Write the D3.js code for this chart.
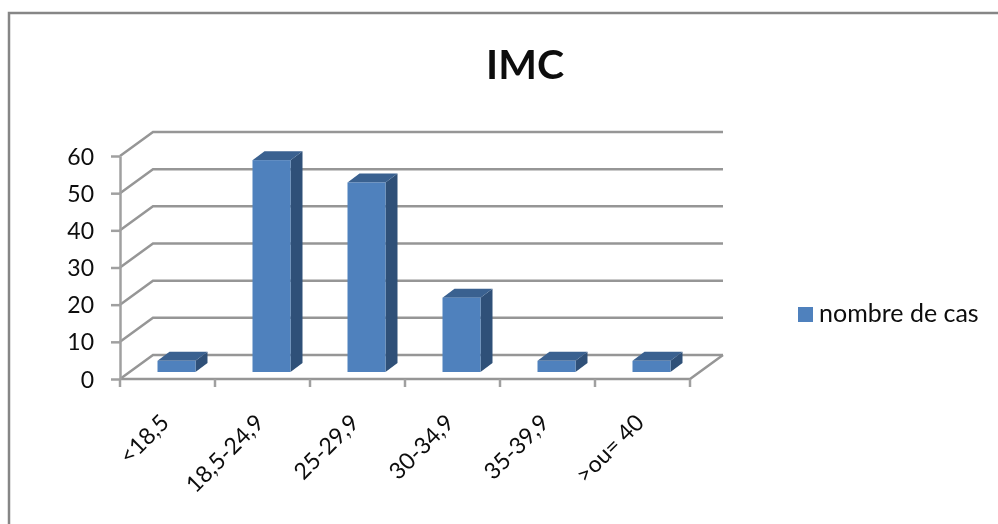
<!DOCTYPE html>
<html lang="fr">
<head>
<meta charset="UTF-8">
<title>IMC</title>
<script src="https://d3js.org/d3.v7.min.js"></script>
<style>
    html, body { margin: 0; padding: 0; background: #fff; overflow: hidden; }
    svg { filter: blur(0.35px); }
    text { font-family: "Lato", "Open Sans", sans-serif; fill: #0d0d0d; }
    .wall { fill: none; stroke: #969696; stroke-width: 2.5px; }
    .axis path, .axis line { stroke: #a0a0a0; stroke-width: 2.5px; }
</style>
</head>
<body>
<script>
const categories = ["<18,5", "18,5-24,9", "25-29,9", "30-34,9", "35-39,9", ">ou= 40"];
const seriesName = "nombre de cas";
const values = [3, 57, 51, 20, 3, 3];
const yTicks = [0, 10, 20, 30, 40, 50, 60];

const W = 998, H = 524;
const plot = {left: 120, right: 690, bottom: 379, top: 156};
const depth = {x: 33, y: -24};
const barDepth = {x: 12, y: -9};
const barShift = {x: 9, y: -7};

const svg = d3.select("body").append("svg").attr("width", W).attr("height", H);

// chart frame, only top and left are visible in the picture
svg.append("path")
    .attr("d", `M9,${H}V13H${W}`)
    .attr("fill", "none").attr("stroke", "#868686").attr("stroke-width", 2.5);

svg.append("text").attr("x", 525).attr("y", 79)
    .attr("text-anchor", "middle")
    .style("font-size", "41px").style("font-weight", 700)
    .text("IMC");

const x = d3.scaleBand().domain(categories).range([plot.left, plot.right]).paddingInner(0.6).paddingOuter(0.3);
const xEdge = d3.scaleLinear().domain([0, categories.length]).range([plot.left, plot.right]);
const y = d3.scaleLinear().domain([0, 60]).range([plot.bottom, plot.top]);

// back wall gridlines and side wall slants
svg.selectAll(".grid").data(yTicks).enter().append("path")
    .attr("class", "wall")
    .attr("d", d => `M${plot.left},${y(d)}L${plot.left + depth.x},${y(d) + depth.y}H${plot.right + depth.x}`);

// floor front edge and right edge
svg.append("path").attr("class", "wall")
    .attr("d", `M${plot.left},${plot.bottom}H${plot.right}L${plot.right + depth.x},${plot.bottom + depth.y}`);

// y axis
const gy = svg.append("g").attr("class", "axis")
    .attr("transform", `translate(${plot.left},0)`)
    .call(d3.axisLeft(y).tickValues(yTicks).tickSize(9).tickSizeOuter(0).tickPadding(17));
gy.select(".domain").attr("stroke", "#a0a0a0");
gy.selectAll("text").style("font-size", "23px").attr("dy", "0.35em");

// x axis ticks
svg.selectAll(".xtick").data(d3.range(categories.length + 1)).enter().append("line")
    .attr("class", "xtick")
    .attr("x1", d => xEdge(d)).attr("x2", d => xEdge(d))
    .attr("y1", plot.bottom).attr("y2", plot.bottom + 8)
    .attr("stroke", "#a0a0a0").attr("stroke-width", 2.5);

// x labels, rotated
svg.selectAll(".xlabel").data(categories).enter().append("text")
    .attr("class", "xlabel")
    .attr("text-anchor", "end")
    .attr("transform", d => `translate(${x(d) + x.bandwidth() / 2 + 3},${plot.bottom + 45}) rotate(-45)`)
    .style("font-size", "23px")
    .text(d => d);

// bars
const bar = svg.selectAll(".bar").data(categories.map((c, i) => ({c, v: values[i]})))
    .enter().append("g").attr("class", "bar")
    .attr("transform", `translate(${barShift.x},${barShift.y})`);

bar.append("path").attr("fill", "#2f5078")
    .attr("d", d => {
        const x1 = x(d.c) + x.bandwidth();
        return `M${x1},${y(d.v)}l${barDepth.x},${barDepth.y}V${plot.bottom + barDepth.y}L${x1},${plot.bottom}Z`;
    });
bar.append("path").attr("fill", "#3a6190")
    .attr("d", d => {
        const x0 = x(d.c);
        return `M${x0},${y(d.v)}l${barDepth.x},${barDepth.y}h${x.bandwidth()}l${-barDepth.x},${-barDepth.y}Z`;
    });
bar.append("rect").attr("fill", "#4f81bd")
    .attr("x", d => x(d.c)).attr("width", x.bandwidth())
    .attr("y", d => y(d.v)).attr("height", d => plot.bottom - y(d.v));

// legend
svg.append("rect").attr("x", 798).attr("y", 307).attr("width", 15).attr("height", 15).attr("fill", "#4f81bd");
svg.append("text").attr("x", 819).attr("y", 322).style("font-size", "25px").text(seriesName);
</script>
</body>
</html>
